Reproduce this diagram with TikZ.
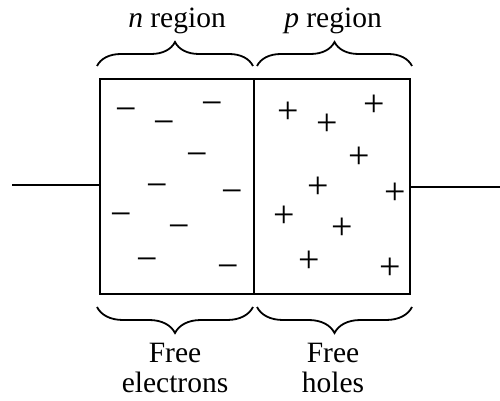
\documentclass[tikz,border=0pt]{standalone}
\usepackage{fontspec}
\setmainfont{Liberation Serif}
\usetikzlibrary{decorations.pathreplacing}
\begin{document}
\begin{tikzpicture}[x=1pt,y=1pt,
  region/.style={draw,line width=2.8pt,inner sep=0pt,outer sep=0pt,minimum height=215pt},
  wire/.style={line width=2pt},
  bracestyle/.style={line width=1.8pt,decorate,decoration={brace,amplitude=24pt,aspect=0.5}},
  lbl/.style={font=\fontsize{29.5}{30}\selectfont,inner sep=0pt,anchor=base},
  sign/.style={font=\fontsize{38}{38}\selectfont,inner sep=0pt,text height=0.5em,text depth=0pt}]
\useasboundingbox (0,0) rectangle (500,401);
% regions
\node[region,minimum width=154pt] (nbox) at (177,214.5) {};
\node[region,minimum width=156pt] (pbox) at (332,214.5) {};
% wires
\coordinate (lw) at (12,216);
\coordinate (rw) at (500,214);
\draw[wire] (lw) -- (lw -| nbox.west);
\draw[wire] (pbox.east |- rw) -- (rw);
% top braces
\coordinate (tb1) at (97,335);
\coordinate (tb2) at (253,335);
\coordinate (tb3) at (257,335);
\coordinate (tb4) at (412,335);
\draw[bracestyle] (tb1) -- (tb2);
\draw[bracestyle] (tb3) -- (tb4);
% bottom braces
\coordinate (bb1) at (97,94);
\coordinate (bb2) at (253,94);
\coordinate (bb3) at (257,94);
\coordinate (bb4) at (412,94);
\draw[bracestyle,decoration={brace,amplitude=26pt,aspect=0.5}] (bb2) -- (bb1);
\draw[bracestyle,decoration={brace,amplitude=26pt,aspect=0.5}] (bb4) -- (bb3);
% labels
\node[lbl] (nlab) at (177,373) {\textit{n} region};
\node[lbl] (plab) at (333,373) {\textit{p} region};
\node[lbl] (fe1) at (175,38) {Free};
\node[lbl] (fe2) at (175,8) {electrons};
\node[lbl] (fh1) at (333,38) {Free};
\node[lbl] (fh2) at (333,8) {holes};
% free electrons
\foreach \x/\y [count=\i] in {126/282,164/269,212/288,197/237,157/206,232/200,121/177,179/165,147/132,228/125}
  \node[sign] (m\i) at (\x,\y) {−};
% free holes
\foreach \x/\y [count=\i] in {288/280,327/268,374/287,359/235,318/205,395/199,284/176,342/164,309/131,390/124}
  \node[sign] (h\i) at (\x,\y) {+};
\end{tikzpicture}
\end{document}
